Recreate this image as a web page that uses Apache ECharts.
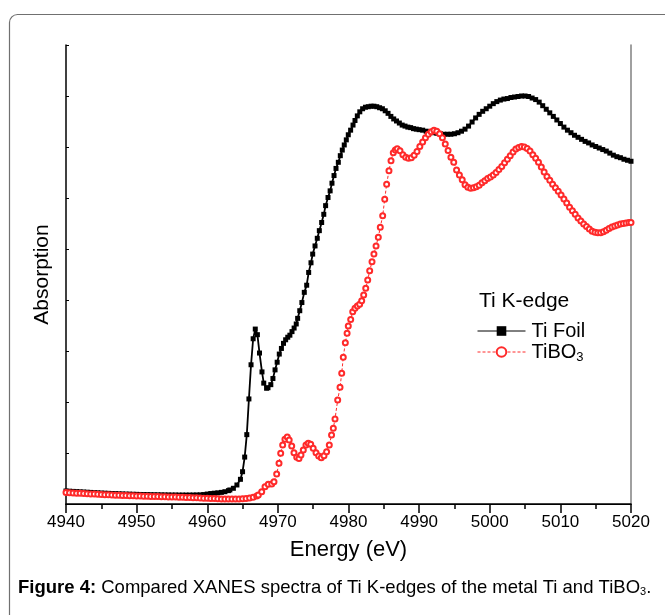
<!DOCTYPE html>
<html><head><meta charset="utf-8">
<script src="https://cdn.jsdelivr.net/npm/echarts@6/dist/echarts.min.js"></script>
<style>html,body{margin:0;padding:0;background:#fff}#c{width:665px;height:615px}</style>
</head><body><div id="c"></div>
<script>
// Ti Foil (black squares)
var foilE = [4940,4940.5,4941,4941.5,4942,4942.5,4943,4943.5,4944,4944.5,4945,4945.5,4946,4946.5,4947,4947.5,4948,4948.5,4949,4949.5,4950,4950.5,4951,4951.5,4952,4952.5,4953,4953.5,4954,4954.5,4955,4955.5,4956,4956.5,4957,4957.5,4958,4958.5,4959,4959.5,4960,4960.5,4961,4961.5,4962,4962.5,4963,
4963.2,4963.7,4964.2,4964.7,4965.0,4965.3,4965.6,4965.9,4966.2,4966.5,4966.8,4967.1,4967.4,4967.75,4968.0,4968.4,4968.6,4969.0,4969.3,4969.6,4969.9,4970.2,4970.5,4970.8,4971.1,4971.4,4971.7,4972.0,4972.3,4972.6,4972.8,4973.1,4973.4,4973.74,4974.08,4974.36,4974.69,4974.93,4975.26,4975.58,4975.87,4976.2,4976.5,4976.76,4977.1,4977.4,4977.66,4977.95,4978.23,4978.56,4978.84,4979.12,4979.4,4979.69,4979.97,4980.3,4980.64,4980.92,4981.25,4981.6,
4982.0,4982.4,4982.8,4983.2,4983.6,4984.0,4984.4,4984.8,4985.2,4985.6,4986.0,4986.4,4986.8,4987.2,4987.6,4988.0,4988.4,4988.8,4989.2,4989.6,4990.0,4990.5,4991.0,4991.5,4992.0,4992.5,4993.0,4993.5,4994.0,4994.5,4995.0,4995.5,4996.0,4996.5,4997.0,4997.5,4998.0,4998.5,4999.0,4999.5,5000.0,5000.5,5001.0,5001.5,5002.0,5002.5,5003.0,5003.5,5004.0,5004.5,5005.0,5005.5,5006.0,5006.5,5007.0,5007.5,5008.0,5008.5,5009.0,5009.5,5010.0,5010.5,5011.0,5011.5,5012.0,5012.5,5013.0,5013.5,5014.0,5014.5,5015.0,5015.5,5016.0,5016.5,5017.0,5017.5,5018.0,5018.5,5019.0,5019.5,5020.0];
var foilA = [.255,.251,.247,.243,.239,.235,.231,.227,.223,.219,.215,.212,.209,.206,.203,.200,.197,.195,.193,.191,.189,.187,.185,.184,.182,.181,.180,.179,.178,.177,.176,.176,.175,.175,.175,.175,.176,.177,.179,.185,.195,.205,.212,.219,.228,.241,.262,
.275,.308,.373,.484,.633,.92,1.36,2.06,2.73,3.24,3.43,3.32,2.96,2.59,2.37,2.27,2.28,2.34,2.46,2.63,2.78,2.94,3.05,3.15,3.22,3.27,3.31,3.38,3.45,3.53,3.64,3.79,3.95,4.15,4.29,4.54,4.73,4.90,5.06,5.21,5.36,5.52,5.68,5.85,6.01,6.14,6.29,6.44,6.58,6.70,6.83,6.94,7.04,7.14,7.24,7.33,7.43,7.52,7.61,7.69,
7.75,7.78,7.79,7.80,7.80,7.79,7.77,7.75,7.71,7.66,7.60,7.55,7.51,7.47,7.43,7.41,7.39,7.38,7.36,7.35,7.34,7.33,7.31,7.30,7.28,7.27,7.26,7.25,7.25,7.25,7.26,7.28,7.31,7.35,7.41,7.49,7.57,7.64,7.70,7.75,7.80,7.85,7.89,7.92,7.94,7.95,7.97,7.98,7.99,8.0,8.0,7.99,7.96,7.93,7.88,7.81,7.74,7.67,7.60,7.53,7.46,7.39,7.33,7.28,7.23,7.19,7.15,7.11,7.08,7.04,7.01,6.98,6.95,6.92,6.88,6.84,6.81,6.79,6.76,6.74,6.72];

// TiBO3 (red open circles)
var tiboE = [4940,4940.5,4941,4941.5,4942,4942.5,4943,4943.5,4944,4944.5,4945,4945.5,4946,4946.5,4947,4947.5,4948,4948.5,4949,4949.5,4950,4950.5,4951,4951.5,4952,4952.5,4953,4953.5,4954,4954.5,4955,4955.5,4956,4956.5,4957,4957.5,4958,4958.5,4959,4959.5,4960,4960.5,4961,4961.5,4962,4962.5,4963,4963.5,4964,4964.5,4965,4965.5,4966,4966.5,4967.0,
4967.23,4967.71,4968.18,4968.64,4969.13,4969.45,4969.83,4970.16,4970.4,4970.68,4971.0,4971.33,4971.6,4971.96,4972.28,4972.67,4972.99,4973.27,4973.6,4973.98,4974.3,4974.65,4975.0,4975.4,4975.78,4976.15,4976.53,4976.9,4977.28,4977.6,4977.85,4978.09,4978.47,4978.8,4979.04,4979.26,4979.55,4979.8,4979.97,4980.31,4980.6,4980.92,4981.25,4981.58,4981.87,4982.15,4982.44,4982.72,4983.0,4983.33,4983.6,4983.9,4984.22,4984.5,4984.84,4985.13,4985.4,4985.73,4986.02,4986.34,4986.63,4986.9,4987.29,
4987.7,4988.1,4988.5,4988.9,4989.3,4989.7,4990.1,4990.5,4990.9,4991.3,4991.7,4992.1,4992.5,4992.9,4993.3,4993.7,4994.1,4994.5,4994.9,4995.3,4995.7,4996.1,4996.5,4996.9,4997.3,4997.7,4998.1,4998.5,4998.9,4999.3,4999.7,5000.1,5000.5,5000.9,5001.3,5001.7,5002.1,5002.5,5002.9,5003.3,5003.7,5004.1,5004.5,5004.9,5005.3,5005.7,5006.1,5006.5,5006.9,5007.3,5007.7,5008.1,5008.5,5008.9,5009.3,5009.7,5010.1,5010.5,5010.9,5011.3,5011.7,5012.1,5012.5,5012.9,5013.3,5013.7,5014.1,5014.5,5014.9,5015.3,5015.7,5016.1,5016.5,5016.9,5017.3,5017.7,5018.1,5018.5,5018.9,5019.3,5019.7,5020];
var tiboA = [.225,.221,.217,.213,.209,.205,.201,.198,.194,.190,.186,.183,.180,.177,.174,.171,.168,.165,.162,.160,.157,.155,.153,.151,.149,.147,.145,.143,.141,.139,.137,.135,.133,.131,.129,.127,.124,.121,.118,.115,.112,.109,.106,.103,.100,.099,.098,.098,.098,.100,.104,.110,.120,.131,.155,
.176,.241,.339,.386,.392,.437,.588,.798,.994,1.157,1.269,1.314,1.255,1.137,1.006,.916,.892,.961,1.059,1.157,1.19,1.171,1.092,1.006,.941,.908,.947,1.025,1.157,1.353,1.484,1.667,2.04,2.288,2.563,2.876,3.163,3.347,3.49,3.62,3.77,3.837,3.882,3.916,3.986,4.098,4.229,4.392,4.575,4.751,4.902,5.059,5.23,5.425,5.653,5.975,6.269,6.535,6.731,6.888,6.941,6.967,6.927,
6.85,6.80,6.78,6.79,6.84,6.91,7.01,7.10,7.18,7.25,7.30,7.33,7.31,7.26,7.18,7.06,6.93,6.80,6.70,6.55,6.45,6.36,6.26,6.21,6.19,6.20,6.22,6.25,6.30,6.34,6.38,6.41,6.45,6.50,6.56,6.62,6.69,6.76,6.83,6.90,6.96,6.99,7.01,7.00,6.97,6.92,6.85,6.78,6.70,6.61,6.51,6.42,6.35,6.27,6.20,6.13,6.06,5.98,5.90,5.82,5.75,5.68,5.61,5.55,5.49,5.44,5.39,5.35,5.33,5.32,5.32,5.34,5.37,5.40,5.43,5.45,5.47,5.49,5.50,5.51,5.52,5.52];

var xTicks = [4940,4950,4960,4970,4980,4990,5000,5010,5020];
var seriesNames = ['Ti Foil','TiBO3'];

function pairs(xs, ys){ return xs.map(function(x,i){ return [x, ys[i]]; }); }

var FONT = 'Liberation Sans, Arial, Helvetica, sans-serif';
var chart = echarts.init(document.getElementById('c'), null, {renderer:'canvas'});
chart.setOption({
  animation: false,
  backgroundColor: '#fff',
  textStyle: {fontFamily: FONT},
  grid: {left: 66, right: 34, top: 45, bottom: 111, containLabel: false},
  xAxis: [{
    type: 'value', min: 4940, max: 5020, interval: 10, position: 'bottom',
    name: 'Energy (eV)', nameLocation: 'middle', nameGap: 35,
    nameTextStyle: {fontSize: 22, color: '#000', fontFamily: FONT},
    axisLine: {lineStyle: {color: '#000', width: 1.5}},
    axisTick: {show: true, inside: false, length: 9, lineStyle: {color: '#000', width: 1.5}},
    minorTick: {show: true, splitNumber: 2, length: 5, lineStyle: {color: '#000', width: 1.5}},
    axisLabel: {fontSize: 17, color: '#000', margin: 10, fontFamily: FONT,
      formatter: function(v){ return xTicks.indexOf(v) >= 0 ? String(v) : ''; }},
    splitLine: {show: false}
  },{
    type: 'value', min: 4940, max: 5020, position: 'top',
    axisLine: {show: true, lineStyle: {color: '#000', width: 1}},
    axisTick: {show: false}, axisLabel: {show: false}, splitLine: {show: false}
  }],
  yAxis: [{
    type: 'value', min: 0, max: 9, interval: 1, position: 'left',
    name: 'Absorption', nameLocation: 'middle', nameGap: 13, nameRotate: 90,
    nameTextStyle: {fontSize: 21, color: '#000', fontFamily: FONT},
    axisLine: {show: true, lineStyle: {color: '#000', width: 1.5}},
    axisTick: {show: true, inside: true, length: 3, lineStyle: {color: '#000', width: 1}},
    axisLabel: {show: false},
    splitLine: {show: false}
  },{
    type: 'value', min: 0, max: 9, position: 'right',
    axisLine: {show: true, lineStyle: {color: '#808080', width: 1.5}},
    axisTick: {show: false}, axisLabel: {show: false}, splitLine: {show: false}
  }],
  legend: {
    show: true, orient: 'vertical', left: 477, top: 321, padding: 0,
    itemWidth: 48, itemHeight: 12, itemGap: 1,
    data: seriesNames,
    lineStyle: {width: 1},
    formatter: function(n){ return n === 'TiBO3' ? 'TiBO{sub|3}' : n; },
    textStyle: {fontSize: 20, color: '#000', fontFamily: FONT, padding: [0,0,0,1],
      rich: {sub: {fontSize: 13, color: '#000', fontFamily: FONT, padding: [10,0,0,0]}}}
  },
  graphic: [
    {type: 'rect', left: 7, top: 12, silent: true,
      shape: {width: 700, height: 612, r: 8},
      style: {fill: 'none', stroke: '#707070', lineWidth: 1.2}},
    {type: 'text', left: 479, top: 291, silent: true,
      style: {text: 'Ti K-edge', font: '21px ' + FONT, fill: '#000'}},
    {type: 'text', left: 18, top: 578, silent: true,
      style: {text: '{b|Figure 4:} Compared XANES spectra of Ti K-edges of the metal Ti and TiBO{s|3}.',
        font: '18.5px ' + FONT, fill: '#000',
        rich: {b: {fontWeight: 'bold', fontSize: 18.5, fontFamily: FONT, fill: '#000'},
               s: {fontSize: 11, fontFamily: FONT, padding: [9,0,0,0]}}}}
  ],
  series: [{
    name: 'Ti Foil', type: 'line', data: pairs(foilE, foilA),
    symbol: 'rect', symbolSize: 5, showAllSymbol: true,
    itemStyle: {color: '#000'},
    lineStyle: {color: '#000', width: 1.8}, z: 2
  },{
    name: 'TiBO3', type: 'line', data: pairs(tiboE, tiboA),
    symbol: 'emptyCircle', symbolSize: 5, showAllSymbol: true,
    itemStyle: {color: '#ff2a2a', borderWidth: 1},
    lineStyle: {color: '#ff2a2a', width: 1, type: [3,2]}, z: 3
  }]
});
</script></body></html>
